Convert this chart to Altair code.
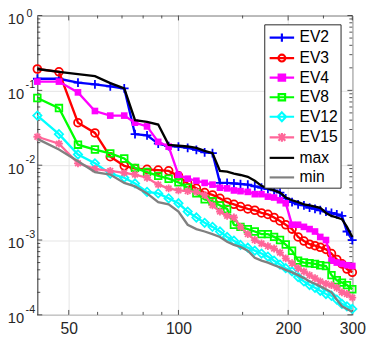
import altair as alt
import pandas as pd

x_vals = [41, 47, 53, 59, 65, 71, 76, 82, 88, 94, 100, 106, 112, 118, 124, 130, 136, 142, 148, 155,
          162, 169, 176, 183, 190, 197, 205, 213, 221, 229, 237, 245, 254, 263, 272, 281, 290, 300]

ev2 = [0.143, 0.143, 0.127, 0.12, 0.113, 0.106, 0.026, 0.025, 0.0194, 0.018, 0.0177, 0.017, 0.016, 0.0148,
       0.0145, 0.0058, 0.0058, 0.0057, 0.0056, 0.0055, 0.0052, 0.005, 0.0048, 0.0046, 0.0043, 0.0036, 0.0032,
       0.003, 0.0029, 0.0027, 0.0026, 0.0025, 0.0024, 0.0023, 0.0022, 0.0021, 0.0013, 0.001]
ev3 = [0.193, 0.177, 0.037, 0.027, 0.013, 0.0098, 0.009, 0.0088, 0.0086, 0.0084, 0.0072, 0.0057, 0.0049,
       0.0043, 0.004, 0.0036, 0.0032, 0.003, 0.0028, 0.0026, 0.0025, 0.0023, 0.0022, 0.002, 0.0018, 0.0016,
       0.0014, 0.0011, 0.00097, 0.00088, 0.00084, 0.0008, 0.00075, 0.00066, 0.00055, 0.00048, 0.00041, 0.00037]
ev4 = [0.131, 0.131, 0.094, 0.053, 0.046, 0.046, 0.037, 0.033, 0.0205, 0.0177, 0.0074, 0.0066, 0.0062,
       0.0058, 0.0055, 0.005, 0.0049, 0.0046, 0.0045, 0.0044, 0.0041, 0.0041, 0.0038, 0.0037, 0.0034, 0.0031,
       0.0016, 0.0016, 0.0015, 0.0014, 0.0013, 0.0011, 0.001, 0.00053, 0.0005, 0.00048, 0.00046, 0.00045]
ev8 = [0.079, 0.058, 0.0188, 0.0162, 0.0144, 0.0123, 0.0092, 0.0081, 0.0072, 0.0066, 0.0059, 0.005, 0.0042,
       0.0035, 0.0033, 0.0029, 0.0026, 0.0016, 0.0015, 0.0014, 0.0013, 0.0012, 0.0012, 0.0011, 0.001, 0.00087,
       0.00072, 0.00053, 0.0005, 0.00049, 0.00048, 0.00046, 0.00045, 0.00034, 0.00029, 0.00027, 0.00025, 0.00022]
ev12 = [0.046, 0.026, 0.0139, 0.0106, 0.0077, 0.0068, 0.0057, 0.0044, 0.0042, 0.0036, 0.0031, 0.0024, 0.002,
        0.0017, 0.0015, 0.0013, 0.0011, 0.00098, 0.00086, 0.00079, 0.00072, 0.00066, 0.0006, 0.00053, 0.00047,
        0.00042, 0.00038, 0.00032, 0.00028, 0.00025, 0.00023, 0.00021, 0.00019, 0.00018, 0.00016, 0.00014,
        0.00013, 0.00012]
ev15 = [0.024, 0.0194, 0.0106, 0.0089, 0.0084, 0.0079, 0.0075, 0.0068, 0.0055, 0.0049, 0.0046, 0.0045, 0.0044,
        0.004, 0.0029, 0.0024, 0.0021, 0.002, 0.0015, 0.0012, 0.001, 0.0009, 0.00083, 0.00077, 0.00068, 0.00057,
        0.00049, 0.00042, 0.00038, 0.00034, 0.00031, 0.00028, 0.00026, 0.00025, 0.00023, 0.0002, 0.00019, 0.00017]
ev_max = [0.193, 0.177, 0.165, 0.155, 0.125, 0.106, 0.04, 0.038, 0.035, 0.0187, 0.0182, 0.0178, 0.017, 0.0155,
          0.0145, 0.0084, 0.0082, 0.0077, 0.0074, 0.007, 0.0062, 0.0053, 0.0049, 0.0046, 0.0043, 0.0037, 0.0034,
          0.0032, 0.003, 0.0029, 0.0028, 0.0027, 0.0023, 0.0021, 0.002, 0.0019, 0.0015, 0.0011]
ev_min = [0.0225, 0.0162, 0.0113, 0.0081, 0.0075, 0.0058, 0.0052, 0.0042, 0.0032, 0.003, 0.0024, 0.0016, 0.0014,
          0.0013, 0.0012, 0.0011, 0.00095, 0.00086, 0.00081, 0.00072, 0.00058, 0.00053, 0.0005, 0.00046, 0.00043,
          0.0004, 0.00037, 0.00034, 0.00031, 0.00028, 0.00026, 0.00024, 0.00022, 0.0002, 0.00016, 0.00013,
          0.00012, 0.00011]

series_names = ["EV2", "EV3", "EV4", "EV8", "EV12", "EV15", "max", "min"]
series_vals = [ev2, ev3, ev4, ev8, ev12, ev15, ev_max, ev_min]
colors = ["#0000ff", "#ff0000", "#ff00ff", "#00ff00", "#00ffff", "#ff6699", "#000000", "#808080"]

x_ticks = [50, 100, 200, 300]
x_minor = [60, 70, 80, 90, 150, 250]
y_ticks = [1e-4, 1e-3, 1e-2, 1e-1, 1]
y_exponents = ["-4", "-3", "-2", "-1", "0"]
y_minor = [m * 10.0 ** e for e in range(-4, 0) for m in range(2, 10)]

rows = []
for name, vals in zip(series_names, series_vals):
    for xv, v in zip(x_vals, vals):
        rows.append({"x": xv, "value": v, "series": name})
df = pd.DataFrame(rows)

W, H = 322, 306
AX = "#262626"
FONT = "Liberation Sans"

xscale = alt.Scale(type="log", domain=[41, 300], nice=False)
yscale = alt.Scale(type="log", domain=[1e-4, 1], nice=False)
X = alt.X("x:Q", scale=xscale, axis=alt.Axis(values=x_ticks, format="d", title=None, grid=True,
                                            gridColor="#e4e4e4", ticks=False, domain=False,
                                            labelFontSize=16, labelFont=FONT, labelColor=AX,
                                            labelPadding=6, labelFlush=False))
Y = alt.Y("value:Q", scale=yscale,
          axis=alt.Axis(values=y_ticks, title=None, grid=True, gridColor="#e4e4e4", ticks=False,
                        domain=False, labelFontSize=15, labelFont=FONT, labelColor=AX, labelPadding=14,
                        labelOffset=3, labelFlush=False, labelExpr="'10'"))

plus = "M-1,0L1,0M0,-1L0,1"
aster = "M-1,0L1,0M0,-1L0,1M-0.72,-0.72L0.72,0.72M-0.72,0.72L0.72,-0.72"
markers = {
    "EV2": dict(shape=plus, filled=False, size=80),
    "EV3": dict(shape="circle", filled=False, size=64),
    "EV4": dict(shape="square", filled=True, size=46),
    "EV8": dict(shape="square", filled=False, size=46),
    "EV12": dict(shape="diamond", filled=False, size=72),
    "EV15": dict(shape=aster, filled=False, size=64),
}

layers = []
# inward ticks on all four sides
ymin_df = pd.DataFrame({"value": y_minor})
ymaj_df = pd.DataFrame({"value": y_ticks})
xmin_df = pd.DataFrame({"x": x_minor})
xmaj_df = pd.DataFrame({"x": x_ticks})
for d, ln in [(ymin_df, 3), (ymaj_df, 5)]:
    layers.append(alt.Chart(d).mark_rule(color=AX, strokeWidth=0.8).encode(y=Y, x=alt.value(0), x2=alt.value(ln)))
    layers.append(alt.Chart(d).mark_rule(color=AX, strokeWidth=0.8).encode(y=Y, x=alt.value(W - ln), x2=alt.value(W)))
for d, ln in [(xmin_df, 3), (xmaj_df, 5)]:
    layers.append(alt.Chart(d).mark_rule(color=AX, strokeWidth=0.8).encode(x=X, y=alt.value(H - ln), y2=alt.value(H)))
    layers.append(alt.Chart(d).mark_rule(color=AX, strokeWidth=0.8).encode(x=X, y=alt.value(0), y2=alt.value(ln)))

# exponents of the y tick labels (superscripts)
exp_df = pd.DataFrame({"value": y_ticks, "exp": y_exponents})
layers.append(alt.Chart(exp_df).transform_filter("datum.value < 0.5").mark_text(
    align="left", baseline="middle", dy=-5, fontSize=11, font=FONT, color=AX).encode(
    y=Y, x=alt.value(-12), text="exp:N"))
layers.append(alt.Chart(exp_df).transform_filter("datum.value > 0.5").mark_text(
    align="left", baseline="middle", dy=-1, fontSize=11, font=FONT, color=AX).encode(
    y=Y, x=alt.value(-11), text="exp:N"))

for name, col in zip(series_names, colors):
    base = alt.Chart(df).transform_filter(alt.datum.series == name)
    layers.append(base.mark_line(color=col, strokeWidth=2.4).encode(x=X, y=Y))
    if name in markers:
        m = markers[name]
        layers.append(base.mark_point(shape=m["shape"], size=m["size"], filled=m["filled"], color=col,
                                      strokeWidth=1.8, opacity=1).encode(x=X, y=Y))

# legend layer (no visible marks, legend only)
line = "M-0.8,0L1.7,0"
leg_shapes = [
    line + "M0.45,-0.42L0.45,0.42",
    line + "M0.8,0A0.35,0.35 0 1,0 0.1,0A0.35,0.35 0 1,0 0.8,0",
    line + "M0.12,-0.32L0.78,-0.32L0.78,0.32L0.12,0.32Z",
    line + "M0.12,-0.32L0.78,-0.32L0.78,0.32L0.12,0.32Z",
    line + "M0.45,-0.45L0.88,0L0.45,0.45L0.02,0Z",
    line + "M0.1,-0.35L0.8,0.35M0.1,0.35L0.8,-0.35M0.45,-0.45L0.45,0.45",
    line,
    line,
]
leg_fills = ["transparent", "transparent", "#ff00ff", "transparent", "transparent", "transparent",
             "transparent", "transparent"]
legend = alt.Legend(title=None, orient="none", legendX=232, legendY=9, padding=2, rowPadding=0,
                    symbolSize=400, labelOffset=11, labelFontSize=16, labelFont=FONT,
                    labelColor="#000000", strokeColor="#262626", fillColor="white", symbolStrokeWidth=2.2,
                    cornerRadius=0, symbolOpacity=1)
leg_layer = alt.Chart(df).transform_filter("false").mark_point(filled=True, opacity=1).encode(
    x=X, y=Y,
    shape=alt.Shape("series:N", scale=alt.Scale(domain=series_names, range=leg_shapes), legend=legend),
    stroke=alt.Stroke("series:N", scale=alt.Scale(domain=series_names, range=colors), legend=legend),
    fill=alt.Fill("series:N", scale=alt.Scale(domain=series_names, range=leg_fills), legend=legend),
)
layers.append(leg_layer)

chart = alt.layer(*layers).properties(
    width=W, height=H,
    padding={"left": 30, "top": 4, "right": 14, "bottom": 22},
    autosize=alt.AutoSizeParams(type="none"),
).configure_view(stroke=AX, strokeWidth=1)

chart.save("out.html", embed_options={"renderer": "svg", "actions": False})
